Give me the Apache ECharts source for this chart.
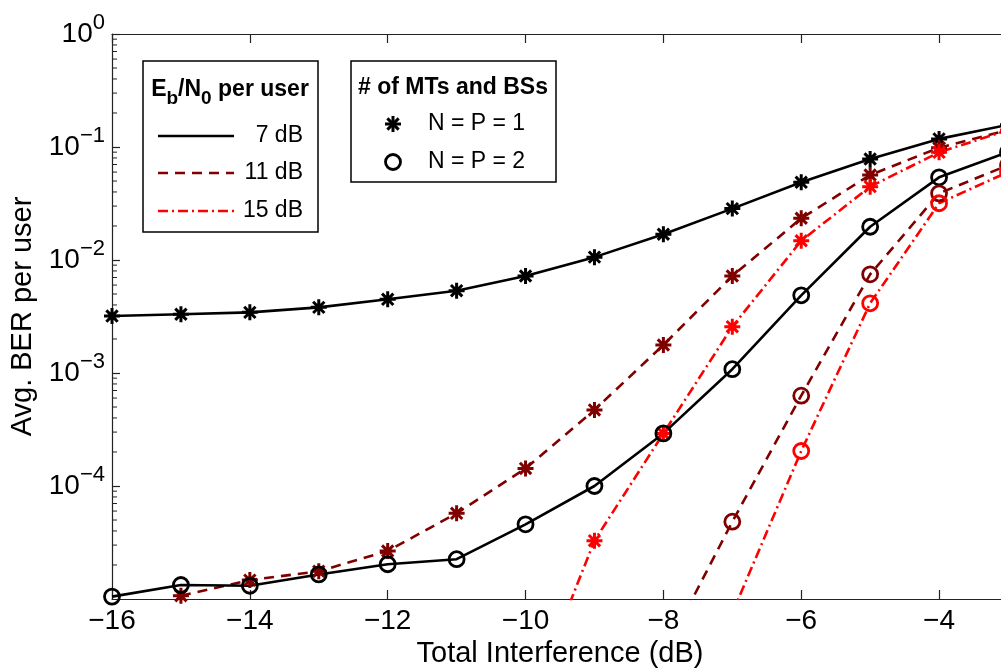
<!DOCTYPE html>
<html>
<head>
<meta charset="utf-8">
<script src="https://cdn.jsdelivr.net/npm/echarts@6/dist/echarts.min.js"></script>
<style>
html,body{margin:0;padding:0;background:#fff;}
#chart{width:1001px;height:668px;}
</style>
</head>
<body>
<div id="chart"></div>
<script>
// x: Total Interference (dB)
const xVals = [-16, -15, -14, -13, -12, -11, -10, -9, -8, -7, -6, -5, -4, -3];

// N = P = 1 (asterisk)
const ber7_np1  = [3.19e-3, 3.31e-3, 3.44e-3, 3.81e-3, 4.49e-3, 5.35e-3, 7.22e-3, 1.06e-2, 1.69e-2, 2.85e-2, 4.87e-2, 7.83e-2, 0.118, 0.157];
const ber11_np1 = [null, 1.07e-5, 1.47e-5, 1.76e-5, 2.66e-5, 5.73e-5, 1.43e-4, 4.71e-4, 1.77e-3, 7.22e-3, 2.34e-2, 5.65e-2, 9.86e-2, 0.141];
const ber15_np1 = [null, null, null, null, null, null, 9.4e-7, 3.28e-5, 2.92e-4, 2.57e-3, 1.48e-2, 4.46e-2, 8.97e-2, 0.141];
// N = P = 2 (circle)
const ber7_np2  = [1.05e-5, 1.33e-5, 1.31e-5, 1.65e-5, 2.03e-5, 2.25e-5, 4.58e-5, 1.0e-4, 2.92e-4, 1.08e-3, 4.87e-3, 1.97e-2, 5.39e-2, 9.0e-2];
const ber11_np2 = [null, null, null, null, null, null, null, null, 3.2e-6, 4.83e-5, 6.30e-4, 7.47e-3, 3.89e-2, 6.9e-2];
const ber15_np2 = [null, null, null, null, null, null, null, null, null, 7.5e-6, 2.04e-4, 4.14e-3, 3.18e-2, 6.0e-2];

const legendEb = ['7 dB', '11 dB', '15 dB'];
const legendNP = ['N = P = 1', 'N = P = 2'];

const FONT = '"Liberation Sans", Arial, Helvetica, sans-serif';
const BLACK = '#000000', DRED = '#800000', RED = '#ff0000';
const DASH = [10, 7], DASHDOT = [10, 4, 2, 4];
const STAR = 'path://M0,-10L0,10M-10,0L10,0M-7.07,-7.07L7.07,7.07M-7.07,7.07L7.07,-7.07';

function pairs(ys) {
  let out = [];
  for (let i = 0; i < xVals.length; i++) {
    if (ys[i] != null) out.push([xVals[i], ys[i]]);
  }
  return out;
}

function mkSeries(ys, color, dash, isStar) {
  return {
    type: 'line',
    data: pairs(ys),
    symbol: isStar ? STAR : 'circle',
    symbolSize: isStar ? 16 : 15,
    showAllSymbol: true,
    lineStyle: { color: color, width: 2.6, type: dash },
    itemStyle: {
      color: isStar ? color : 'rgba(0,0,0,0)',
      borderColor: color,
      borderWidth: isStar ? 3 : 2.8
    },
    clip: true,
    z: 3
  };
}

// 对数轴的次刻度 2..9 x 10^k
const minorVals = [];
for (let k = -5; k < 0; k++) {
  for (let m = 2; m <= 9; m++) minorVals.push(m * Math.pow(10, k));
}

function fmtX(v) {
  return v < 0 ? '\u2212' + Math.abs(v) : String(v);
}
function fmtY(v) {
  let e = Math.round(Math.log10(v));
  let s = e < 0 ? '\u2212' + Math.abs(e) : String(e);
  return '{b|10}{s|' + s + '}';
}

// legend drawing helpers
function starGraphic(cx, cy, r, color) {
  let segs = [[0, -r, 0, r], [-r, 0, r, 0], [-r * 0.707, -r * 0.707, r * 0.707, r * 0.707], [-r * 0.707, r * 0.707, r * 0.707, -r * 0.707]];
  return segs.map(s => ({
    type: 'line', z: 101,
    shape: { x1: cx + s[0], y1: cy + s[1], x2: cx + s[2], y2: cy + s[3] },
    style: { stroke: color, lineWidth: 3 }
  }));
}

let graphics = [];
// box 1
graphics.push({ type: 'rect', z: 100, shape: { x: 143, y: 61, width: 175, height: 171 }, style: { fill: '#fff', stroke: '#000', lineWidth: 1.5 } });
graphics.push({
  type: 'text', z: 101, x: 230, y: 90,
  style: {
    text: '{t|E}{s|b}{t|/N}{s|0}{t| per user}',
    align: 'center', verticalAlign: 'middle',
    rich: {
      t: { fontFamily: FONT, fontWeight: 'bold', fontSize: 23, lineHeight: 36, fill: '#000' },
      s: { fontFamily: FONT, fontWeight: 'bold', fontSize: 19, lineHeight: 22, verticalAlign: 'bottom', fill: '#000' }
    }
  }
});
const ebColors = [BLACK, DRED, RED];
const ebDash = [null, DASH, DASHDOT];
const ebRowY = [136, 173, 211];
for (let i = 0; i < legendEb.length; i++) {
  graphics.push({ type: 'line', z: 101, shape: { x1: 158, y1: ebRowY[i], x2: 234, y2: ebRowY[i] }, style: { stroke: ebColors[i], lineWidth: 2.6, lineDash: ebDash[i] } });
  graphics.push({ type: 'text', z: 101, x: 303, y: ebRowY[i], style: { text: legendEb[i], font: '23px ' + FONT, fill: '#000', align: 'right', verticalAlign: 'middle' } });
}
// box 2
graphics.push({ type: 'rect', z: 100, shape: { x: 351, y: 61, width: 205, height: 121 }, style: { fill: '#fff', stroke: '#000', lineWidth: 1.5 } });
graphics.push({ type: 'text', z: 101, x: 453, y: 88, style: { text: '# of MTs and BSs', font: 'bold 23px ' + FONT, fill: '#000', align: 'center', verticalAlign: 'middle' } });
graphics = graphics.concat(starGraphic(393, 124, 8, BLACK));
graphics.push({ type: 'circle', z: 101, shape: { cx: 393, cy: 162, r: 7.5 }, style: { fill: 'none', stroke: BLACK, lineWidth: 2.8 } });
graphics.push({ type: 'text', z: 101, x: 428, y: 124, style: { text: legendNP[0], font: '23px ' + FONT, fill: '#000', align: 'left', verticalAlign: 'middle' } });
graphics.push({ type: 'text', z: 101, x: 428, y: 162, style: { text: legendNP[1], font: '23px ' + FONT, fill: '#000', align: 'left', verticalAlign: 'middle' } });

const chart = echarts.init(document.getElementById('chart'));
const option = {
  animation: false,
  backgroundColor: '#fff',
  grid: { left: 112, top: 34, height: 565, width: 896, containLabel: false, outerBoundsMode: 'none' },
  xAxis: [{
    type: 'value', min: -16, max: -3, interval: 2,
    name: 'Total Interference (dB)', nameLocation: 'middle', nameGap: 32,
    nameTextStyle: { fontFamily: FONT, fontSize: 29, color: '#000' },
    axisLine: { show: true, onZero: false, lineStyle: { color: '#222', width: 1.2 } },
    axisTick: { show: true, inside: true, length: 9, lineStyle: { color: '#222', width: 1.2 } },
    axisLabel: { show: true, margin: 8, formatter: fmtX, showMaxLabel: false, fontFamily: FONT, fontSize: 28, color: '#000' },
    splitLine: { show: false }
  }, {
    type: 'value', position: 'top', min: -16, max: -3, interval: 2,
    axisLine: { show: true, onZero: false, lineStyle: { color: '#222', width: 1.2 } },
    axisTick: { show: true, inside: true, length: 9, lineStyle: { color: '#222', width: 1.2 } },
    axisLabel: { show: false },
    splitLine: { show: false }
  }],
  yAxis: {
    type: 'log', logBase: 10, min: 1e-5, max: 1,
    name: 'Avg. BER per user', nameLocation: 'middle', nameGap: 60,
    nameTextStyle: { fontFamily: FONT, fontSize: 29, color: '#000' },
    axisLine: { show: true, lineStyle: { color: '#222', width: 1.2 } },
    axisTick: { show: true, inside: true, length: 8, lineStyle: { color: '#222', width: 1.2 } },
    axisLabel: {
      show: true, margin: 7, showMinLabel: false, formatter: fmtY,
      rich: {
        b: { fontFamily: FONT, fontSize: 28, lineHeight: 44, color: '#000' },
        s: { fontFamily: FONT, fontSize: 22, lineHeight: 20, verticalAlign: 'top', color: '#000' }
      }
    },
    splitLine: { show: false }
  },
  graphic: graphics,
  series: [
    {
      type: 'custom',
      data: minorVals.map(v => [-16, v]),
      encode: { x: 0, y: 1 },
      clip: false,
      silent: true,
      renderItem: function (params, api) {
        let p = api.coord([api.value(0), api.value(1)]);
        return { type: 'line', shape: { x1: p[0], y1: p[1], x2: p[0] + 5, y2: p[1] }, style: { stroke: '#222', lineWidth: 1 } };
      },
      z: 2
    },
    mkSeries(ber7_np1, BLACK, 'solid', true),
    mkSeries(ber11_np1, DRED, DASH, true),
    mkSeries(ber15_np1, RED, DASHDOT, true),
    mkSeries(ber7_np2, BLACK, 'solid', false),
    mkSeries(ber11_np2, DRED, DASH, false),
    mkSeries(ber15_np2, RED, DASHDOT, false)
  ]
};
chart.setOption(option);
</script>
</body>
</html>
